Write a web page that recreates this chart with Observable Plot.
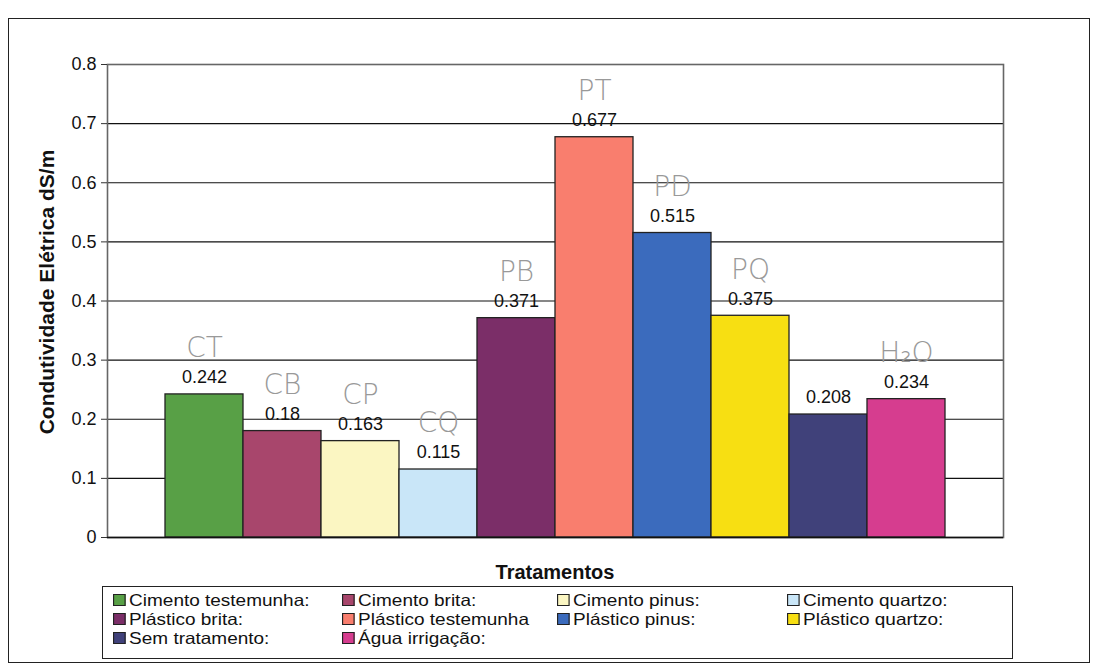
<!DOCTYPE html>
<html>
<head>
<meta charset="utf-8">
<script src="https://cdn.jsdelivr.net/npm/d3@7"></script>
<script src="https://cdn.jsdelivr.net/npm/@observablehq/plot@0.6"></script>
<style>
  html, body { margin: 0; padding: 0; background: #fff; }
  body { width: 1106px; height: 671px; position: relative; overflow: hidden; font-family: "Liberation Sans", Arial, sans-serif; color: #111; }
  #frame { position: absolute; left: 8px; top: 18px; width: 1082px; height: 645px; border: 1.5px solid #222; box-sizing: border-box; }
  #chart { position: absolute; left: 0; top: 0; }
  #xtitle { position: absolute; left: 0; width: 1110px; top: 561px; text-align: center; font-weight: bold; font-size: 20px; }
  #legend { position: absolute; left: 102px; top: 586px; width: 911px; height: 73px; border: 1.5px solid #222; box-sizing: border-box; }
  .item { position: absolute; font-size: 16.5px; line-height: 19px; height: 19px; white-space: nowrap; transform: scaleX(1.15); transform-origin: 0 50%; }
  .sw { display: inline-block; width: 9px; height: 10px; border: 1.2px solid #222; margin-right: 3px; vertical-align: 0px; }
</style>
</head>
<body>
<div id="frame"></div>
<div id="chart"></div>
<div id="xtitle">Tratamentos</div>
<div id="legend"></div>
<script>
const categories = ["Cimento testemunha", "Cimento brita", "Cimento pinus", "Cimento quartzo", "Plástico brita", "Plástico testemunha", "Plástico pinus", "Plástico quartzo", "Sem tratamento", "Água irrigação"];
const values = [0.242, 0.18, 0.163, 0.115, 0.371, 0.677, 0.515, 0.375, 0.208, 0.234];
const colors = ["#58a046", "#a8466c", "#fbf6c2", "#c9e6f8", "#7b2e68", "#f97e6e", "#3b6bbd", "#f7df12", "#40417a", "#d63d8f"];
const notes = ["CT", "CB", "CP", "CQ", "PB", "PT", "PD", "PQ", "", "H₂O"];
const legendLabels = ["Cimento testemunha:", "Cimento brita:", "Cimento pinus:", "Cimento quartzo:", "Plástico brita:", "Plástico testemunha", "Plástico pinus:", "Plástico quartzo:", "Sem tratamento:", "Água irrigação:"];
const yTicks = [0, 0.1, 0.2, 0.3, 0.4, 0.5, 0.6, 0.7, 0.8];
const yTitle = "Condutividade Elétrica dS/m";

const data = categories.map((c, i) => ({cat: c, v: values[i], note: notes[i]}));
const fmt = d => String(+d.toFixed(1));

const plot = Plot.plot({
  width: 1106,
  height: 560,
  marginLeft: 107,
  marginRight: 103,
  marginTop: 64,
  marginBottom: 23,
  style: {fontFamily: "'Liberation Sans', Arial, sans-serif", color: "#111", background: "transparent"},
  x: {domain: categories, paddingInner: 0, paddingOuter: 0.73, axis: null},
  y: {domain: [0, 0.8], label: null, axis: null},
  color: {domain: categories, range: colors},
  marks: [
    Plot.gridY(yTicks.filter(t => t > 0 && t < 0.8), {stroke: "#111", strokeOpacity: 1, strokeWidth: 1.2}),
    Plot.frame({stroke: "#666", strokeWidth: 1.6}),
    Plot.axisY({ticks: yTicks, tickFormat: fmt, tickSize: 6, tickPadding: 5, fontSize: 18, label: null, stroke: "#333"}),
    Plot.barY(data, {x: "cat", y: "v", fill: "cat", stroke: "#222", strokeWidth: 1.3}),
    Plot.ruleY([0], {stroke: "#111", strokeWidth: 1.5}),
    Plot.text(data, {x: "cat", y: "v", text: d => String(d.v), dy: -17, fontSize: 18, fill: "#111"}),
    Plot.text(data, {x: "cat", y: "v", text: "note", dy: -46, fontSize: 28, fill: "#999", fontWeight: 200, fontFamily: "'DejaVu Sans', sans-serif"}),
    Plot.text([yTitle], {frameAnchor: "left", textAnchor: "middle", rotate: -90, dx: -60, dy: -9, fontSize: 21, fontWeight: "bold", fill: "#111"})
  ]
});
document.getElementById("chart").appendChild(plot);

const legend = document.getElementById("legend");
const colX = [10, 239, 454, 684];
legendLabels.forEach((lab, i) => {
  const col = i % 4, row = Math.floor(i / 4);
  const div = document.createElement("div");
  div.className = "item";
  div.style.left = colX[col] + "px";
  div.style.top = (4 + row * 19) + "px";
  const sw = document.createElement("span");
  sw.className = "sw";
  sw.style.background = colors[categories.indexOf(lab.replace(/:$/, ""))];
  div.appendChild(sw);
  div.appendChild(document.createTextNode(lab));
  legend.appendChild(div);
});
</script>
</body>
</html>
